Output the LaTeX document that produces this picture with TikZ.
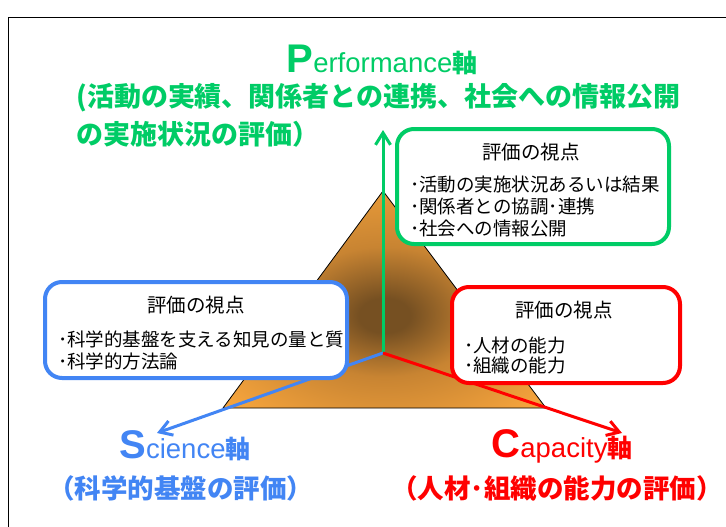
\documentclass[tikz,border=0pt]{standalone}
\usepackage{fontspec}
\setmainfont{Noto Sans CJK JP}
\newfontfamily\lat{Liberation Sans}
\usetikzlibrary{arrows.meta}
\definecolor{pgreen}{RGB}{0,204,102}
\definecolor{sblue}{RGB}{66,133,244}
\definecolor{cred}{RGB}{255,0,0}
\definecolor{torange}{RGB}{244,163,60}
\definecolor{tmid}{RGB}{200,132,50}
\definecolor{tdark}{RGB}{118,80,34}
\pgfdeclareradialshading{trishade}{\pgfpoint{0bp}{-4bp}}{color(0bp)=(tdark); color(4bp)=(tdark); color(15bp)=(tmid); color(32bp)=(torange); color(50bp)=(torange)}
\tikzset{
  viewbox/.style={draw=#1, line width=4pt, rounded corners=17pt, fill=white, inner sep=0pt},
  boxtitle/.style={inner sep=0pt, font=\fontsize{19.5}{20}\selectfont},
  boxitem/.style={inner sep=0pt, anchor=west, font=\fontsize{18.5}{19}\selectfont},
  axisarrow/.style={draw=#1, line width=3pt, -{Straight Barb[length=12pt,width=15pt]}},
  headjp/.style={inner sep=0pt, text=#1, font=\bfseries\fontsize{27}{28}\selectfont},
  bottomjp/.style={inner sep=0pt, text=#1, font=\bfseries\fontsize{26.5}{28}\selectfont},
}
\newcommand{\BigL}[1]{{\lat\bfseries\fontsize{40}{40}\selectfont #1}}
\newcommand{\SmallL}[1]{{\lat\fontsize{27.5}{28}\selectfont #1}}
\newcommand{\AxisJ}[1]{{\bfseries\fontsize{25}{25}\selectfont #1}}
\begin{document}
\begin{tikzpicture}[x=1pt,y=-1pt]
\useasboundingbox (0,0) rectangle (726,527);
\fill[white] (0,0) rectangle (726,527);
% frame
\draw[black, line width=1pt] (8,18) rectangle (745,545);
% triangle
\coordinate (apex) at (383,191);
\coordinate (bl) at (223,408);
\coordinate (br) at (546,408);
\coordinate (ctr) at (383,353);
\draw[black, line width=0.8pt, shading=trishade] (apex) -- (br) -- (bl) -- cycle;
% axis tips
\coordinate (ptip) at (383,130);
\coordinate (stip) at (157,433);
\coordinate (ctip) at (622,433);
\draw[axisarrow=pgreen] (ctr) -- (ptip);
\draw[axisarrow=sblue] (ctr) -- (stip);
\draw[axisarrow=cred] (ctr) -- (ctip);
% boxes
\node[viewbox=pgreen, minimum width=272pt, minimum height=115pt] (gbox) at (533,186.5) {};
\node[viewbox=sblue, minimum width=302pt, minimum height=96pt] (bbox) at (196,330) {};
\node[viewbox=cred, minimum width=228pt, minimum height=96pt] (rbox) at (566,335) {};
% green box text
\node[boxtitle] (gt) at (531,152) {評価の視点};
\node[boxitem] (g1) at (410,185) {･活動の実施状況あるいは結果};
\node[boxitem] (g2) at (410,207) {･関係者との協調･連携};
\node[boxitem] (g3) at (410,229) {･社会への情報公開};
% blue box text
\node[boxtitle] (bt) at (196,305) {評価の視点};
\node[boxitem] (b1) at (58,339) {･科学的基盤を支える知見の量と質};
\node[boxitem] (b2) at (58,361) {･科学的方法論};
% red box text
\node[boxtitle] (rt) at (564,310) {評価の視点};
\node[boxitem] (r1) at (464,345) {･人材の能力};
\node[boxitem] (r2) at (464,366) {･組織の能力};
% headings
\node[inner sep=0pt, anchor=base, text=pgreen] (phead) at (382,73) {\BigL{P}\SmallL{erformance}\AxisJ{軸}};
\node[headjp=pgreen, anchor=west] (pl1) at (76,98) {(活動の実績、関係者との連携、社会への情報公開};
\node[headjp=pgreen, anchor=west] (pl2) at (76,134) {の実施状況の評価）};
\node[inner sep=0pt, anchor=base, text=sblue] (shead) at (185,458) {\BigL{S}\SmallL{cience}\AxisJ{軸}};
\node[bottomjp=sblue] (sl) at (181,488) {（科学的基盤の評価）};
\node[inner sep=0pt, anchor=base, text=cred] (chead) at (562,457) {\BigL{C}\SmallL{apacity}\AxisJ{軸}};
\node[bottomjp=cred] (cl) at (557,488) {（人材･組織の能力の評価）};
\end{tikzpicture}
\end{document}
